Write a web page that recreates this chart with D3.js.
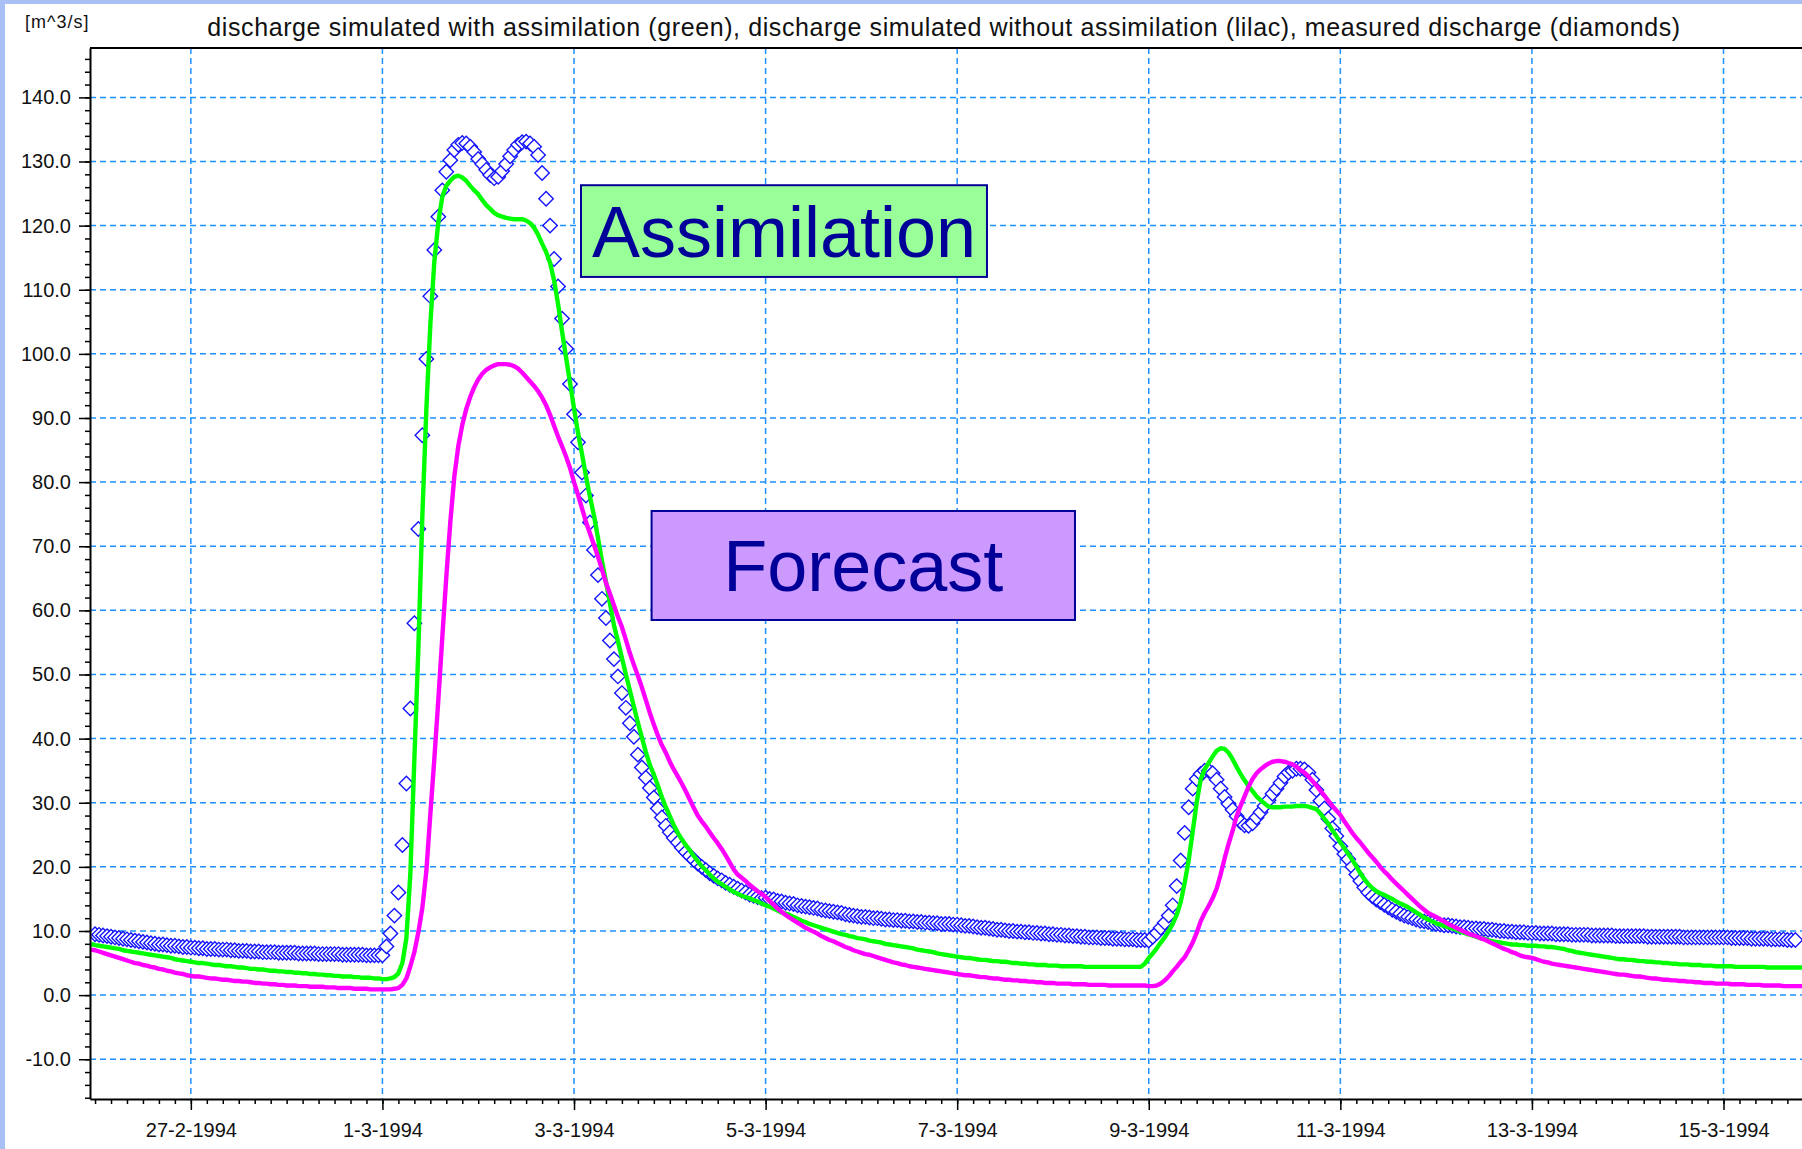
<!DOCTYPE html>
<html>
<head>
<meta charset="utf-8">
<script src="https://cdn.jsdelivr.net/npm/d3@7"></script>
<style>
  html, body { margin: 0; padding: 0; background: #fff; }
  svg { display: block; font-family: "Liberation Sans", Arial, sans-serif; }
</style>
</head>
<body>
<svg id="chart" width="1802" height="1149"></svg>
<script>
// hourly values, one row per day (first green / lilac value is 25-2 23:00)
var linesStart = Date.UTC(1994, 1, 25, 23);
var measuredStart = Date.UTC(1994, 1, 26, 0);

// discharge simulated with assimilation (green)
var assimilated = [
  [8.0],
  [7.8, 7.7, 7.6, 7.5, 7.4, 7.3, 7.2, 7.0, 6.9, 6.8, 6.7, 6.6, 6.5, 6.4, 6.3, 6.2, 6.1, 6.0, 5.9, 5.8, 5.6, 5.5, 5.4, 5.3], // 26-2
  [5.2, 5.1, 5.0, 5.0, 4.9, 4.8, 4.7, 4.7, 4.6, 4.5, 4.5, 4.4, 4.3, 4.3, 4.2, 4.1, 4.1, 4.0, 4.0, 3.9, 3.8, 3.8, 3.7, 3.7], // 27-2
  [3.6, 3.6, 3.5, 3.5, 3.4, 3.4, 3.3, 3.3, 3.2, 3.2, 3.1, 3.1, 3.0, 3.0, 2.9, 2.9, 2.9, 2.8, 2.8, 2.7, 2.7, 2.7, 2.6, 2.6], // 28-2
  [2.5, 2.5, 2.6, 2.8, 3.4, 5.0, 8.9, 19.0, 36.8, 54.0, 74.7, 91.3, 104.5, 114.4, 120.5, 124.5, 126.2, 127.0, 127.6, 127.8, 127.5, 127.0, 126.2, 125.5], // 1-3
  [124.9, 124.0, 123.2, 122.6, 122.0, 121.6, 121.4, 121.2, 121.1, 121.0, 121.0, 121.0, 120.8, 120.4, 119.7, 118.6, 117.2, 115.9, 114.2, 111.5, 107.8, 103.5, 99.5, 95.5], // 2-3
  [91.5, 87.7, 84.4, 80.9, 77.7, 74.8, 71.3, 67.7, 64.5, 61.1, 57.7, 55.2, 52.6, 50.0, 47.5, 45.0, 42.5, 40.2, 37.9, 35.9, 34.4, 32.7, 30.9, 29.3], // 3-3
  [27.9, 26.5, 25.3, 24.3, 23.4, 22.6, 21.7, 20.9, 20.1, 19.5, 18.8, 18.2, 17.7, 17.3, 16.9, 16.5, 16.1, 15.8, 15.5, 15.3, 15.1, 14.8, 14.6, 14.3], // 4-3
  [14.0, 13.8, 13.5, 13.2, 12.9, 12.7, 12.5, 12.2, 11.9, 11.6, 11.4, 11.1, 10.9, 10.7, 10.5, 10.3, 10.1, 9.9, 9.7, 9.5, 9.4, 9.2, 9.1, 8.9], // 5-3
  [8.8, 8.7, 8.5, 8.4, 8.3, 8.2, 8.0, 7.9, 7.8, 7.7, 7.6, 7.5, 7.4, 7.3, 7.1, 7.0, 6.9, 6.8, 6.7, 6.5, 6.4, 6.3, 6.2, 6.1], // 6-3
  [6.0, 5.9, 5.8, 5.8, 5.7, 5.6, 5.5, 5.5, 5.4, 5.3, 5.3, 5.2, 5.2, 5.1, 5.0, 5.0, 4.9, 4.9, 4.8, 4.8, 4.7, 4.7, 4.7, 4.6], // 7-3
  [4.6, 4.6, 4.5, 4.5, 4.5, 4.5, 4.5, 4.5, 4.4, 4.4, 4.4, 4.4, 4.4, 4.4, 4.4, 4.4, 4.4, 4.4, 4.4, 4.4, 4.4, 4.4, 4.4, 4.9], // 8-3
  [5.8, 6.5, 7.3, 8.2, 9.0, 10.0, 11.1, 12.5, 14.5, 17.5, 21.0, 25.5, 30.0, 33.6, 35.2, 36.2, 37.2, 38.1, 38.5, 38.4, 37.8, 36.8, 35.6, 34.5], // 9-3
  [33.5, 32.6, 31.8, 31.0, 30.4, 29.9, 29.4, 29.3, 29.3, 29.3, 29.4, 29.4, 29.4, 29.5, 29.5, 29.5, 29.4, 29.2, 29.0, 28.3, 27.5, 26.7, 25.7, 24.8], // 10-3
  [23.8, 22.9, 22.0, 21.1, 20.1, 19.0, 18.1, 17.3, 16.7, 16.2, 15.9, 15.6, 15.3, 15.0, 14.6, 14.3, 14.0, 13.7, 13.3, 12.9, 12.5, 12.1, 11.8, 11.5], // 11-3
  [11.2, 11.0, 10.8, 10.6, 10.4, 10.2, 9.9, 9.7, 9.5, 9.3, 9.1, 8.9, 8.8, 8.6, 8.4, 8.3, 8.2, 8.1, 8.0, 7.9, 7.9, 7.8, 7.8, 7.7], // 12-3
  [7.7, 7.7, 7.6, 7.6, 7.5, 7.5, 7.4, 7.3, 7.2, 7.0, 6.9, 6.7, 6.6, 6.5, 6.4, 6.3, 6.2, 6.1, 6.0, 5.9, 5.8, 5.7, 5.6, 5.6], // 13-3
  [5.5, 5.5, 5.4, 5.3, 5.3, 5.2, 5.2, 5.1, 5.1, 5.0, 5.0, 4.9, 4.9, 4.8, 4.8, 4.8, 4.7, 4.7, 4.7, 4.6, 4.6, 4.6, 4.5, 4.5], // 14-3
  [4.5, 4.5, 4.5, 4.4, 4.4, 4.4, 4.4, 4.4, 4.4, 4.4, 4.4, 4.3, 4.3, 4.3, 4.3, 4.3, 4.3, 4.3, 4.3, 4.3, 4.3] // 15-3
];

// discharge simulated without assimilation (lilac)
var forecast = [
  [7.1],
  [7.0, 6.8, 6.6, 6.4, 6.2, 6.0, 5.8, 5.6, 5.4, 5.2, 5.0, 4.9, 4.7, 4.6, 4.4, 4.3, 4.1, 4.0, 3.8, 3.7, 3.5, 3.4, 3.3, 3.1], // 26-2
  [3.0, 2.9, 2.9, 2.8, 2.7, 2.6, 2.6, 2.5, 2.4, 2.4, 2.3, 2.2, 2.2, 2.1, 2.1, 2.0, 1.9, 1.9, 1.8, 1.8, 1.7, 1.7, 1.6, 1.6], // 27-2
  [1.5, 1.5, 1.5, 1.4, 1.4, 1.4, 1.3, 1.3, 1.3, 1.3, 1.2, 1.2, 1.2, 1.1, 1.1, 1.1, 1.1, 1.0, 1.0, 1.0, 1.0, 0.9, 0.9, 0.9], // 28-2
  [0.9, 0.9, 0.9, 1.0, 1.1, 1.6, 2.6, 4.5, 6.7, 9.8, 13.6, 19.3, 28.2, 36.8, 46.0, 55.8, 65.2, 73.7, 80.8, 85.6, 88.9, 91.4, 93.3, 94.8], // 1-3
  [96.0, 96.9, 97.5, 97.9, 98.2, 98.4, 98.4, 98.4, 98.3, 98.1, 97.7, 97.1, 96.4, 95.7, 95.0, 94.2, 93.2, 92.0, 90.5, 88.8, 87.1, 85.6, 84.0, 82.2], // 2-3
  [80.0, 78.0, 75.9, 73.8, 72.0, 70.2, 68.4, 66.4, 64.3, 62.6, 60.8, 59.0, 57.4, 55.4, 53.3, 51.5, 49.8, 48.0, 46.0, 44.0, 42.2, 40.5, 39.0, 37.8], // 3-3
  [36.4, 35.2, 34.1, 33.0, 31.8, 30.5, 29.2, 28.0, 27.1, 26.3, 25.4, 24.5, 23.7, 22.8, 21.8, 20.7, 19.6, 18.8, 18.3, 17.8, 17.2, 16.7, 16.2, 15.8], // 4-3
  [15.3, 14.7, 14.1, 13.5, 13.0, 12.5, 12.1, 11.7, 11.3, 10.9, 10.5, 10.2, 9.9, 9.6, 9.2, 8.9, 8.6, 8.4, 8.1, 7.8, 7.5, 7.3, 7.0, 6.8], // 5-3
  [6.6, 6.4, 6.3, 6.1, 5.9, 5.7, 5.5, 5.3, 5.1, 5.0, 4.8, 4.7, 4.5, 4.4, 4.3, 4.2, 4.1, 4.0, 3.9, 3.8, 3.7, 3.6, 3.5, 3.4], // 6-3
  [3.3, 3.2, 3.1, 3.1, 3.0, 2.9, 2.8, 2.8, 2.7, 2.6, 2.6, 2.5, 2.4, 2.4, 2.3, 2.3, 2.2, 2.2, 2.1, 2.1, 2.0, 2.0, 1.9, 1.9], // 7-3
  [1.9, 1.8, 1.8, 1.8, 1.8, 1.7, 1.7, 1.7, 1.7, 1.6, 1.6, 1.6, 1.6, 1.6, 1.5, 1.5, 1.5, 1.5, 1.5, 1.5, 1.5, 1.5, 1.5, 1.5], // 8-3
  [1.4, 1.4, 1.5, 1.8, 2.3, 2.9, 3.7, 4.4, 5.2, 5.9, 7.0, 8.2, 9.7, 11.5, 12.8, 13.9, 15.1, 16.6, 18.8, 21.3, 23.6, 25.6, 27.9, 29.5], // 9-3
  [31.0, 32.5, 33.7, 34.6, 35.2, 35.7, 36.1, 36.4, 36.5, 36.5, 36.4, 36.2, 36.0, 35.6, 35.1, 34.7, 34.1, 33.4, 32.7, 31.9, 31.1, 30.3, 29.5, 28.8], // 10-3
  [28.1, 27.1, 26.2, 25.3, 24.5, 23.8, 23.0, 22.2, 21.5, 20.8, 20.0, 19.3, 18.7, 18.0, 17.4, 16.8, 16.2, 15.6, 15.0, 14.4, 13.8, 13.3, 12.8, 12.5], // 11-3
  [12.2, 11.8, 11.5, 11.1, 10.8, 10.5, 10.2, 9.9, 9.6, 9.4, 9.2, 8.9, 8.7, 8.4, 8.1, 7.8, 7.5, 7.2, 7.0, 6.7, 6.5, 6.2, 6.0, 5.9], // 12-3
  [5.8, 5.6, 5.4, 5.2, 5.1, 4.9, 4.8, 4.7, 4.6, 4.5, 4.4, 4.3, 4.2, 4.1, 4.0, 3.9, 3.8, 3.7, 3.6, 3.5, 3.4, 3.3, 3.2, 3.2], // 13-3
  [3.1, 3.0, 2.9, 2.9, 2.8, 2.7, 2.6, 2.6, 2.5, 2.4, 2.4, 2.3, 2.3, 2.2, 2.2, 2.1, 2.1, 2.0, 2.0, 1.9, 1.9, 1.9, 1.8, 1.8], // 14-3
  [1.8, 1.8, 1.7, 1.7, 1.7, 1.7, 1.6, 1.6, 1.6, 1.6, 1.5, 1.5, 1.5, 1.5, 1.5, 1.4, 1.4, 1.4, 1.4, 1.4, 1.4] // 15-3
];

// measured discharge (diamonds)
var measured = [
  [9.5, 9.4, 9.3, 9.2, 9.1, 9.0, 8.9, 8.8, 8.7, 8.6, 8.5, 8.4, 8.3, 8.2, 8.1, 8.0, 7.9, 7.9, 7.8, 7.7, 7.7, 7.6, 7.5, 7.5], // 26-2
  [7.4, 7.4, 7.3, 7.3, 7.2, 7.2, 7.2, 7.1, 7.1, 7.1, 7.0, 7.0, 6.9, 6.9, 6.9, 6.8, 6.8, 6.8, 6.7, 6.7, 6.7, 6.7, 6.6, 6.6], // 27-2
  [6.6, 6.6, 6.6, 6.5, 6.5, 6.5, 6.5, 6.5, 6.4, 6.4, 6.4, 6.4, 6.4, 6.4, 6.3, 6.3, 6.3, 6.3, 6.3, 6.3, 6.2, 6.2, 6.2, 6.2], // 28-2
  [6.2, 7.6, 9.6, 12.4, 16.0, 23.4, 33.0, 44.7, 58.0, 72.7, 87.3, 99.2, 109.0, 116.2, 121.4, 125.5, 128.4, 130.2, 131.8, 132.6, 132.9, 132.8, 132.3, 131.5], // 1-3
  [130.4, 129.6, 128.7, 127.9, 127.4, 127.6, 128.5, 129.6, 130.8, 131.8, 132.6, 133.0, 133.1, 132.8, 132.3, 131.0, 128.2, 124.2, 120.0, 114.8, 110.5, 105.5, 100.8, 95.3], // 2-3
  [90.6, 86.2, 81.5, 77.9, 73.7, 69.4, 65.5, 61.8, 58.8, 55.3, 52.4, 49.7, 47.1, 44.8, 42.4, 40.3, 37.5, 35.5, 33.9, 32.3, 30.8, 29.1, 27.7, 26.4], // 3-3
  [25.4, 24.5, 23.8, 23.0, 22.3, 21.7, 21.1, 20.5, 20.0, 19.5, 19.0, 18.6, 18.2, 17.9, 17.5, 17.2, 16.9, 16.6, 16.3, 16.0, 15.7, 15.5, 15.3, 15.1], // 4-3
  [15.2, 15.0, 14.9, 14.7, 14.6, 14.4, 14.3, 14.2, 14.0, 13.9, 13.8, 13.7, 13.6, 13.5, 13.3, 13.2, 13.1, 13.0, 12.9, 12.8, 12.6, 12.5, 12.4, 12.3], // 5-3
  [12.2, 12.2, 12.1, 12.0, 12.0, 11.9, 11.8, 11.8, 11.7, 11.7, 11.6, 11.6, 11.5, 11.5, 11.4, 11.4, 11.3, 11.3, 11.2, 11.2, 11.1, 11.1, 11.1, 11.0], // 6-3
  [11.0, 10.9, 10.8, 10.8, 10.7, 10.6, 10.5, 10.5, 10.4, 10.3, 10.2, 10.2, 10.1, 10.0, 10.0, 9.9, 9.9, 9.8, 9.8, 9.7, 9.7, 9.6, 9.6, 9.5], // 7-3
  [9.5, 9.4, 9.4, 9.3, 9.3, 9.2, 9.2, 9.1, 9.1, 9.0, 9.0, 9.0, 8.9, 8.9, 8.9, 8.8, 8.8, 8.8, 8.7, 8.7, 8.7, 8.6, 8.6, 8.6], // 8-3
  [8.5, 9.1, 9.7, 10.5, 11.3, 12.4, 14.0, 17.0, 21.0, 25.3, 29.3, 32.2, 33.7, 34.5, 35.0, 35.0, 34.6, 33.6, 32.2, 30.9, 29.8, 28.9, 27.9, 27.0], // 9-3
  [26.5, 26.4, 26.8, 27.7, 28.5, 29.5, 30.4, 31.4, 32.2, 33.1, 34.1, 34.7, 35.0, 35.3, 35.3, 35.2, 34.7, 33.6, 32.0, 30.3, 29.1, 27.5, 26.0, 24.8], // 10-3
  [23.2, 22.0, 21.2, 20.0, 18.8, 17.8, 16.8, 16.0, 15.4, 14.9, 14.5, 14.1, 13.7, 13.3, 13.0, 12.7, 12.4, 12.2, 12.0, 11.8, 11.6, 11.5, 11.4, 11.2], // 11-3
  [11.1, 11.0, 10.9, 10.9, 10.8, 10.7, 10.6, 10.6, 10.5, 10.4, 10.4, 10.3, 10.3, 10.2, 10.2, 10.1, 10.0, 10.0, 9.9, 9.9, 9.8, 9.8, 9.8, 9.7], // 12-3
  [9.7, 9.7, 9.6, 9.6, 9.6, 9.6, 9.5, 9.5, 9.5, 9.5, 9.4, 9.4, 9.4, 9.4, 9.4, 9.3, 9.3, 9.3, 9.3, 9.3, 9.3, 9.2, 9.2, 9.2], // 13-3
  [9.2, 9.2, 9.2, 9.2, 9.2, 9.1, 9.1, 9.1, 9.1, 9.1, 9.1, 9.1, 9.1, 9.1, 9.0, 9.0, 9.0, 9.0, 9.0, 9.0, 9.0, 9.0, 9.0, 9.0], // 14-3
  [9.0, 9.0, 8.9, 8.9, 8.9, 8.9, 8.9, 8.8, 8.8, 8.8, 8.8, 8.8, 8.7, 8.7, 8.7, 8.7, 8.6, 8.6, 8.6] // 15-3
];

var yTicks = [-10, 0, 10, 20, 30, 40, 50, 60, 70, 80, 90, 100, 110, 120, 130, 140];
var yUnit = "[m^3/s]";
var title = "discharge simulated with assimilation (green), discharge simulated without assimilation (lilac), measured discharge (diamonds)";

var annotations = [
  {label: "Assimilation", t0: Date.UTC(1994, 2, 3, 1, 45), t1: Date.UTC(1994, 2, 7, 7, 28), top: 126.3, bottom: 112.0, fill: "#99ff99"},
  {label: "Forecast", t0: Date.UTC(1994, 2, 3, 19, 26), t1: Date.UTC(1994, 2, 8, 5, 31), top: 75.5, bottom: 58.5, fill: "#cc99ff"}
];

///////////////////////////////////////////////////////////////////////////////

var HOUR = 3600 * 1000;
function toPoints(rows, start) {
  return d3.merge(rows).map(function(v, i) {
    return {t: new Date(start + i * HOUR), v: v};
  });
}
var assimPts = toPoints(assimilated, linesStart),
    forecastPts = toPoints(forecast, linesStart),
    measuredPts = toPoints(measured, measuredStart);

var svg = d3.select("#chart"),
    W = +svg.attr("width"),
    H = +svg.attr("height");

var plotLeft = 90, plotTop = 48, plotBottom = 1099;

var x = d3.scaleUtc()
    .domain([new Date(Date.UTC(1994, 1, 25, 22, 44)), new Date(Date.UTC(1994, 2, 16))])
    .range([plotLeft, 1819.3]);
var y = d3.scaleLinear().domain([-16.2, 147.7]).range([plotBottom, plotTop]);

svg.append("rect").attr("width", W).attr("height", H).attr("fill", "#fff");
// light blue frame of the window
svg.append("rect").attr("x", 0).attr("y", 0).attr("width", 5).attr("height", H).attr("fill", "#a9c0f6");
svg.append("rect").attr("x", 0).attr("y", 0).attr("width", W).attr("height", 4).attr("fill", "#a9c0f6");

svg.append("clipPath").attr("id", "plotclip")
  .append("rect").attr("x", plotLeft).attr("y", plotTop)
  .attr("width", x.range()[1] - plotLeft).attr("height", plotBottom - plotTop);

// grid
var xMajor = x.ticks(d3.utcDay.every(2));
var grid = svg.append("g").attr("stroke", "#1e90ff").attr("stroke-width", 1.5).attr("stroke-dasharray", "6,4");
grid.selectAll(".gy").data(yTicks).enter().append("line")
    .attr("x1", plotLeft).attr("x2", W)
    .attr("y1", function(d) { return y(d); }).attr("y2", function(d) { return y(d); });
grid.selectAll(".gx").data(xMajor).enter().append("line")
    .attr("y1", plotTop).attr("y2", plotBottom)
    .attr("x1", function(d) { return x(d); }).attr("x2", function(d) { return x(d); });

// series
var plot = svg.append("g").attr("clip-path", "url(#plotclip)");

var diamond = d3.symbol().type(d3.symbolSquare).size(104);
plot.append("g").selectAll("path").data(measuredPts).enter().append("path")
    .attr("d", diamond)
    .attr("transform", function(d) { return "translate(" + x(d.t) + "," + y(d.v) + ") rotate(45)"; })
    .attr("fill", "#fff")
    .attr("stroke", "#1414ff")
    .attr("stroke-width", 1.4);

var line = d3.line().x(function(d) { return x(d.t); }).y(function(d) { return y(d.v); });
plot.append("path").datum(assimPts).attr("d", line)
    .attr("fill", "none").attr("stroke", "#00ff00").attr("stroke-width", 4.4).attr("stroke-linejoin", "round");
plot.append("path").datum(forecastPts).attr("d", line)
    .attr("fill", "none").attr("stroke", "#ff00ff").attr("stroke-width", 4.4).attr("stroke-linejoin", "round");

// axes
var minorY = d3.range(-16, 147, 2);
svg.append("g").attr("transform", "translate(" + plotLeft + ",0)")
    .call(d3.axisLeft(y).tickValues(minorY).tickSize(5).tickSizeOuter(0).tickFormat(""))
    .call(function(g) { g.select(".domain").remove(); g.selectAll("line").attr("stroke-width", 1.5); });

svg.append("g").attr("transform", "translate(" + plotLeft + ",0)")
    .call(d3.axisLeft(y).tickValues(yTicks).tickSize(11).tickSizeOuter(0).tickPadding(8)
      .tickFormat(function(d) { return d.toFixed(1); }))
    .call(function(g) {
      g.select(".domain").attr("stroke-width", 2);
      g.selectAll("line").attr("stroke-width", 1.5);
      g.selectAll("text").attr("font-size", 20).attr("font-family", "Liberation Sans, Arial, sans-serif").attr("fill", "#111");
    });

svg.append("g").attr("transform", "translate(0," + plotBottom + ")")
    .call(d3.axisBottom(x).ticks(d3.utcHour.every(4)).tickSize(5).tickSizeOuter(0).tickFormat(""))
    .call(function(g) { g.select(".domain").remove(); g.selectAll("line").attr("stroke-width", 1.5); });

svg.append("g").attr("transform", "translate(0," + plotBottom + ")")
    .call(d3.axisBottom(x).tickValues(xMajor).tickSize(11).tickSizeOuter(0).tickPadding(13)
      .tickFormat(d3.utcFormat("%-d-%-m-%Y")))
    .call(function(g) {
      g.select(".domain").attr("stroke-width", 2);
      g.selectAll("line").attr("stroke-width", 1.5);
      g.selectAll("text").attr("font-size", 20).attr("font-family", "Liberation Sans, Arial, sans-serif").attr("fill", "#111");
    });

// top border of the plot
svg.append("line").attr("x1", plotLeft).attr("x2", W).attr("y1", plotTop).attr("y2", plotTop)
    .attr("stroke", "#000").attr("stroke-width", 2);

// texts
svg.append("text").attr("x", 25).attr("y", 28).attr("font-size", 18).attr("letter-spacing", 1)
    .attr("fill", "#111").text(yUnit);
svg.append("text").attr("x", 944).attr("y", 36).attr("text-anchor", "middle")
    .attr("font-size", 25).attr("letter-spacing", 0.6).attr("fill", "#111").text(title);

// annotation boxes
var ann = svg.append("g").selectAll("g").data(annotations).enter().append("g");
ann.append("rect")
    .attr("x", function(d) { return x(d.t0); })
    .attr("y", function(d) { return y(d.top); })
    .attr("width", function(d) { return x(d.t1) - x(d.t0); })
    .attr("height", function(d) { return y(d.bottom) - y(d.top); })
    .attr("fill", function(d) { return d.fill; })
    .attr("stroke", "#000099").attr("stroke-width", 2);
ann.append("text")
    .attr("x", function(d) { return (x(d.t0) + x(d.t1)) / 2; })
    .attr("y", function(d) { return (y(d.top) + y(d.bottom)) / 2 + 26; })
    .attr("text-anchor", "middle")
    .attr("font-size", 72)
    .attr("fill", "#000099")
    .text(function(d) { return d.label; });
</script>
</body>
</html>
